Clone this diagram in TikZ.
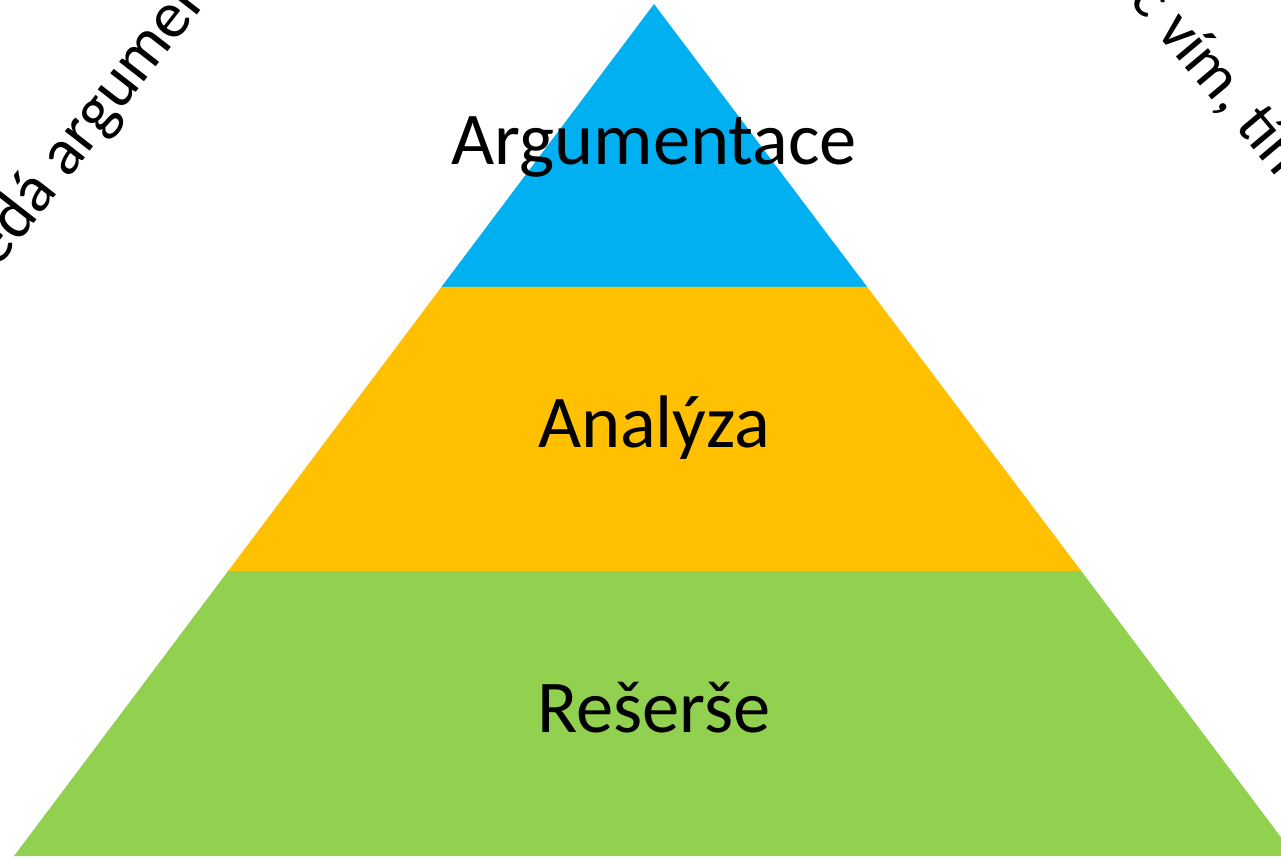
\documentclass[tikz,border=0pt]{standalone}
\usepackage{fontspec}
\setmainfont{Carlito}
\definecolor{pblue}{HTML}{00B0F0}
\definecolor{pyellow}{HTML}{FFC000}
\definecolor{pgreen}{HTML}{92D050}
\begin{document}
\begin{tikzpicture}[x=1pt,y=-1pt,
  band/.style={draw=none},
  lbl/.style={font=\fontsize{74.5}{80}\selectfont, anchor=base, inner sep=0pt},
  side/.style={font=\fontsize{66}{72}\selectfont, inner sep=0pt, anchor=base west}]
\useasboundingbox (0,0) rectangle (1281,858);
\clip (0,0) rectangle (1281,858);
\coordinate (apex) at (654,4);
\coordinate (bl) at (14,856);
\coordinate (br) at (1295,856);
\coordinate (l1) at (441.4,287);
\coordinate (r1) at (867.2,287);
\coordinate (l2) at (228.1,571);
\coordinate (r2) at (1081.2,571);
\fill[pblue, band] (apex) -- (r1) -- (l1) -- cycle;
\fill[pyellow, band] (l1) -- (r1) -- (r2) -- (l2) -- cycle;
\fill[pgreen, band] (l2) -- (r2) -- (br) -- (bl) -- cycle;
\node[lbl] (arg) at (654,165) {Argumentace};
\node[lbl] (ana) at (654,447) {Analýza};
\node[lbl] (res) at (654,732) {Rešerše};
\node[side, rotate=52] (lt) at (68,180) {\llap{Hledá\ }argumenty};
\node[side, rotate=-50, font=\fontsize{63}{70}\selectfont] (rt) at (1155,32) {\llap{Čím víc\ }vím, tím víc};
\end{tikzpicture}
\end{document}
